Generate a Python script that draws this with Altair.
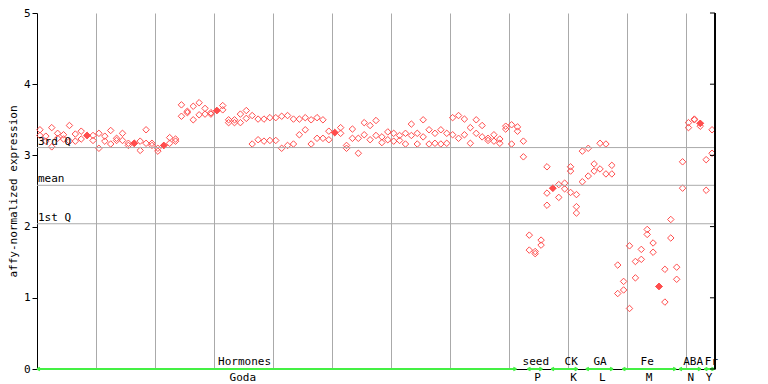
import altair as alt
import pandas as pd

# replicate values per sample column (column i drawn at x = i + 0.5)
rep_a = [3.36, 3.27, 3.39, 3.31, 3.29, 3.42, 3.30, 3.34, 3.28, 3.28,
         3.31, 3.27, 3.35, 3.21, 3.31, 3.17, 3.17, 3.20, 3.36, 3.17,
         3.06, 3.14, 3.25, 3.23, 3.71, 3.62, 3.69, 3.74, 3.66, 3.58,
         3.63, 3.70, 3.50, 3.50, 3.58, 3.63, 3.56, 3.51, 3.51, 3.53,
         3.53, 3.55, 3.56, 3.51, 3.51, 3.53, 3.50, 3.53, 3.50, 3.34,
         3.32, 3.39, 3.14, 3.37, 3.03, 3.46, 3.42, 3.49, 3.26, 3.33,
         3.31, 3.28, 3.31, 3.44, 3.31, 3.50, 3.36, 3.31, 3.36, 3.31,
         3.53, 3.56, 3.51, 3.39, 3.50, 3.42, 3.24, 3.29, 3.23, 3.41,
         3.43, 3.40, 3.20, 1.88, 1.65, 1.81, 2.84, 2.54, 2.59, 2.61,
         2.84, 2.45, 3.06, 3.10, 2.88, 3.17, 3.16, 2.86, 1.46, 1.23,
         1.73, 1.51, 1.68, 1.96, 1.77, 1.16, 1.40, 2.10, 1.43, 2.91,
         3.46, 3.51, 3.45, 2.94, 3.36]
rep_b = [3.28, 3.20, 3.12, 3.24, 3.23, 3.20, 3.20, 3.23, 3.28, 3.21,
         3.10, 3.20, 3.16, 3.24, 3.21, 3.14, 3.17, 3.07, 3.17, 3.14,
         3.10, 3.14, 3.17, 3.20, 3.55, 3.60, 3.50, 3.57, 3.58, 3.60,
         3.63, 3.64, 3.46, 3.46, 3.46, 3.52, 3.16, 3.22, 3.20, 3.21,
         3.21, 3.10, 3.14, 3.16, 3.29, 3.36, 3.16, 3.24, 3.24, 3.22,
         3.32, 3.31, 3.10, 3.24, 3.24, 3.29, 3.22, 3.28, 3.18, 3.22,
         3.20, 3.21, 3.16, 3.28, 3.16, 3.26, 3.16, 3.17, 3.16, 3.17,
         3.29, 3.24, 3.29, 3.17, 3.31, 3.26, 3.21, 3.20, 3.17, 3.37,
         3.16, 3.34, 2.98, 1.67, 1.62, 1.74, 2.47, 2.54, 2.41, 2.53,
         2.48, 2.28, 2.63, 2.71, 2.78, 2.81, 2.74, 2.74, 1.06, 1.11,
         0.85, 1.28, 1.54, 1.89, 1.64, 1.16, 0.94, 1.84, 1.26, 2.54,
         3.39, 3.50, 3.45, 2.51, 3.03]
extra_idx = [86, 90, 91, 112]
extra_val = [2.30, 2.78, 2.19, 3.41]

q_names = ["3rd Q", "mean", "1st Q"]
q_vals = [3.11, 2.58, 2.04]

seg_names = ["Hormones", "seed", "CK", "GA", "Fe", "ABA", "Fr"]
seg_start = [0.0, 83.2, 87.2, 93.1, 99.3, 108.9, 113.2]
seg_end = [81.3, 85.7, 91.7, 97.7, 108.4, 112.6, 114.9]
seg_label_x = [35.2, 84.6, 90.6, 95.5, 103.5, 111.3, 114.4]
sub_names = ["Goda", "P", "K", "L", "M", "N", "Y"]
sub_label_x = [34.9, 84.9, 91.0, 95.9, 103.8, 110.9, 114.0]

y_ticks = [0, 1, 2, 3, 4, 5]
x_grid = [10, 20, 30, 40, 50, 60, 70, 80, 90, 100, 110]
x_max = 115
tick_in = 0.85   # inward right-tick length, in x units

MONO = "DejaVu Sans Mono"
RED = "#ff4d4d"
GREEN = "#44f044"
GRID = "#aaaaaa"

rows = []
for i, (a, b) in enumerate(zip(rep_a, rep_b)):
    rows.append({"x": i + 0.5, "v": a, "filled": a == b})
    rows.append({"x": i + 0.5, "v": b, "filled": False})
for i, v in zip(extra_idx, extra_val):
    rows.append({"x": i + 0.5, "v": v, "filled": False})
pts = pd.DataFrame(rows)

xs = alt.Scale(domain=[0, x_max], nice=False, zero=False)
ys = alt.Scale(domain=[0, 5], nice=False, zero=False)

main_x = alt.X("x:Q", scale=xs, title=None,
               axis=alt.Axis(values=x_grid, grid=True, gridColor=GRID,
                             gridWidth=1, gridOpacity=1, labels=False, ticks=False,
                             title=None, domainColor="black", domainWidth=1))
main_y = alt.Y("v:Q", scale=ys, title="affy-normalized expression",
               axis=alt.Axis(values=y_ticks, grid=False, tickSize=5,
                             tickColor="black", domainColor="black",
                             labelFont=MONO, labelFontSize=11, format="d",
                             labelColor="black", labelPadding=2,
                             title="affy-normalized expression",
                             titleFont=MONO, titleFontSize=11,
                             titleFontWeight="normal", titleColor="black",
                             titlePadding=5))

points = alt.Chart(pts).mark_point(shape="diamond", filled=False, size=42,
                                   color=RED, strokeWidth=1, opacity=1).encode(x=main_x, y=main_y)
filled_pts = alt.Chart(pts).transform_filter("datum.filled").mark_point(
    shape="diamond", filled=True, size=48, color=RED, opacity=1).encode(x="x:Q", y="v:Q")

qdf = pd.DataFrame({"name": q_names, "v": q_vals})
qrules = alt.Chart(qdf).mark_rule(color=GRID, strokeWidth=1).encode(y="v:Q")
qtext = alt.Chart(qdf).mark_text(font=MONO, fontSize=11, align="left", baseline="bottom",
                                 dx=1, dy=-1, color="black").encode(
    x=alt.datum(0), y="v:Q", text="name:N")

sdf = pd.DataFrame({"name": seg_names, "x": seg_start, "e": seg_end,
                    "lx": seg_label_x, "sub": sub_names, "sx": sub_label_x})
segs = alt.Chart(sdf).mark_rule(color=GREEN, strokeWidth=2).encode(
    x="x:Q", x2="e:Q", y=alt.datum(0))
left_arr = alt.Chart(sdf).mark_point(shape="M0,0L2,-1M0,0L2,1", size=9, filled=False,
                                     color=GREEN, strokeWidth=1.5, opacity=1).encode(
    x="x:Q", y=alt.datum(0))
right_arr = alt.Chart(sdf).mark_point(shape="M0,0L-2,-1M0,0L-2,1", size=9, filled=False,
                                      color=GREEN, strokeWidth=1.5, opacity=1).encode(
    x=alt.X("e:Q", title=None), y=alt.datum(0))
top_lab = alt.Chart(sdf).mark_text(font=MONO, fontSize=11, baseline="bottom", dy=-2,
                                   color="black").encode(
    x=alt.X("lx:Q", title=None), y=alt.datum(0), text="name:N")
bot_lab = alt.Chart(sdf).mark_text(font=MONO, fontSize=11, baseline="top", dy=3,
                                   color="black").encode(
    x=alt.X("sx:Q", title=None), y=alt.datum(0), text="sub:N")

tdf = pd.DataFrame({"v": y_ticks, "x": [x_max] * len(y_ticks),
                    "x1": [x_max - tick_in] * len(y_ticks)})
right_border = alt.Chart(tdf).mark_rule(color="black", strokeWidth=1).encode(
    x=alt.datum(x_max), y=alt.datum(0), y2=alt.datum(5))
right_ticks = alt.Chart(tdf).mark_rule(color="black", strokeWidth=1).encode(
    x="x:Q", x2="x1:Q", y="v:Q")

chart = alt.layer(
    points, qrules, filled_pts, qtext, segs, left_arr, right_arr, top_lab, bot_lab,
    right_border, right_ticks
).properties(
    width=678, height=356, autosize="none",
    padding={"left": 29, "top": 5, "right": 45, "bottom": 15}
).configure(background="white").configure_view(stroke=None)

chart.save("out.html", embed_options={"renderer": "svg", "actions": False})
